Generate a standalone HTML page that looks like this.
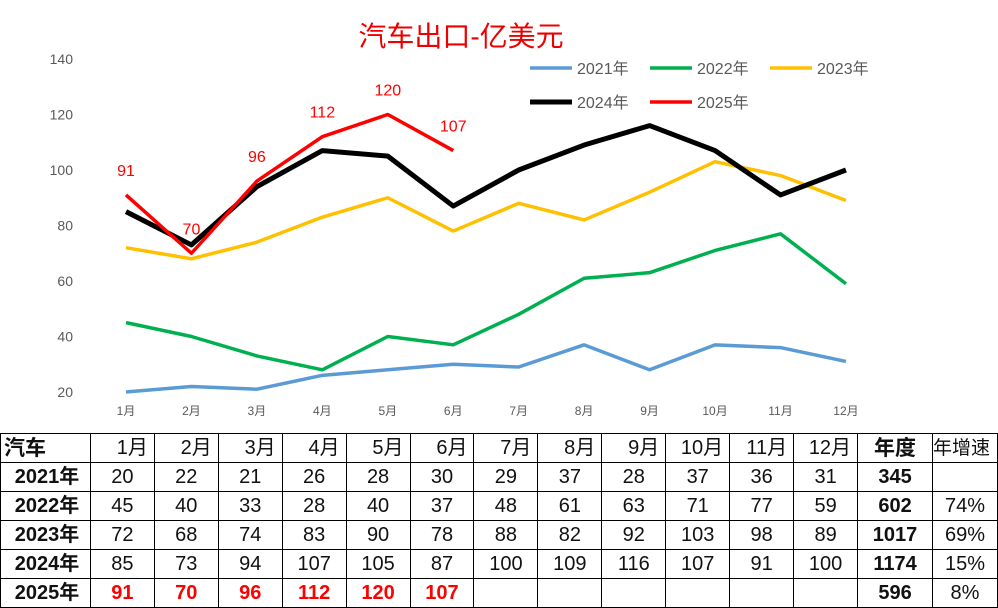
<!DOCTYPE html>
<html><head><meta charset="utf-8">
<style>
body{margin:0;background:#fff;width:998px;height:608px;overflow:hidden;font-family:"Liberation Sans","Noto Sans CJK SC",sans-serif}
svg{position:absolute;left:0;top:0}
table{position:absolute;left:0;top:433px;border-collapse:collapse;table-layout:fixed}
td{border:1.5px solid #000;height:29px;box-sizing:border-box;line-height:25px;padding:0;font-size:20px;text-align:center;color:#111;white-space:nowrap;overflow:hidden}
tr{height:29px}
td.h{font-weight:bold;text-align:left;padding-left:3px}
td.b{font-weight:bold}
td.r{color:#f00;font-weight:bold}
tr.hd td.m{text-align:right;padding-right:6px}
</style></head><body>
<svg width="998" height="433">
<g id="grid"></g><g id="lines"></g><g id="legend"></g>
<text x="461" y="46" text-anchor="middle" font-size="28" fill="#e00">汽车出口-亿美元</text>
</svg>
<table>
<colgroup><col style="width:90px"><col span="12" style="width:64px"><col style="width:75px"><col style="width:65px"></colgroup>
<tbody id="tb"></tbody></table>
<script>
const months=['1月','2月','3月','4月','5月','6月','7月','8月','9月','10月','11月','12月'];
const yTicks=[20,40,60,80,100,120,140];
const years=['2021年','2022年','2023年','2024年','2025年'];
const s2021=[20,22,21,26,28,30,29,37,28,37,36,31];
const s2022=[45,40,33,28,40,37,48,61,63,71,77,59];
const s2023=[72,68,74,83,90,78,88,82,92,103,98,89];
const s2024=[85,73,94,107,105,87,100,109,116,107,91,100];
const s2025=[91,70,96,112,120,107];
const totals=['345','602','1017','1174','596'];
const growth=['','74%','69%','15%','8%'];
const series=[s2021,s2022,s2023,s2024,s2025];
const colors=['#5b9bd5','#00b050','#ffc000','#000000','#ff0000'];
const widths=[3.5,3.5,3.5,5,3.5];
const NS='http://www.w3.org/2000/svg';
const xp=i=>126+i*65.45;
const yp=v=>392-(v-20)*(333/120);
function mk(tag,attrs,parent,txt){const e=document.createElementNS(NS,tag);for(const k in attrs)e.setAttribute(k,attrs[k]);if(txt!==undefined)e.textContent=txt;parent.appendChild(e);return e;}
const grid=document.getElementById('grid');
yTicks.forEach(t=>{const e=mk('text',{x:73,y:yp(t)+5,'text-anchor':'end','font-size':14,fill:'#595959'},grid,t);

});
months.forEach((m,i)=>{const e=mk('text',{x:xp(i),y:415,'text-anchor':'middle','font-size':12,fill:'#595959'},grid,m);

});
const lg=document.getElementById('lines');
series.forEach((s,k)=>{const p=mk('polyline',{points:s.map((v,i)=>xp(i)+','+yp(v)).join(' '),fill:'none',stroke:colors[k],'stroke-width':widths[k],'stroke-linejoin':'round'},lg);

});
s2025.forEach((v,i)=>{const e=mk('text',{x:xp(i),y:yp(v)-19,'text-anchor':'middle','font-size':16,fill:'#f00'},lg,v);

});
const leg=document.getElementById('legend');
const lpos=[[530,68],[650,68],[770,68],[530,102],[650,102]];
years.forEach((y,k)=>{const g=mk('g',{},leg);


mk('line',{x1:lpos[k][0],x2:lpos[k][0]+42,y1:lpos[k][1],y2:lpos[k][1],stroke:colors[k],'stroke-width':widths[k]},g);
mk('text',{x:lpos[k][0]+47,y:lpos[k][1]+6,'font-size':16,fill:'#595959'},g,y);});
const tb=document.getElementById('tb');
let h='<tr class="hd"><td class="h" style="font-size:21px">汽车</td>'+months.map(m=>'<td class="m">'+m+'</td>').join('')+'<td class="b" style="font-size:21px">年度</td><td style="font-size:19px;text-align:left">年增速</td></tr>';
series.forEach((s,k)=>{h+='<tr><td class="h" style="text-align:center">'+years[k]+'</td>';
for(let i=0;i<12;i++)h+='<td'+(k==4?' class="r"':'')+'>'+(s[i]!==undefined?s[i]:'')+'</td>';
h+='<td class="b">'+totals[k]+'</td><td>'+growth[k]+'</td></tr>';});
tb.innerHTML=h;
tb.querySelectorAll('tr').forEach(r=>{});
</script>
</body></html>
